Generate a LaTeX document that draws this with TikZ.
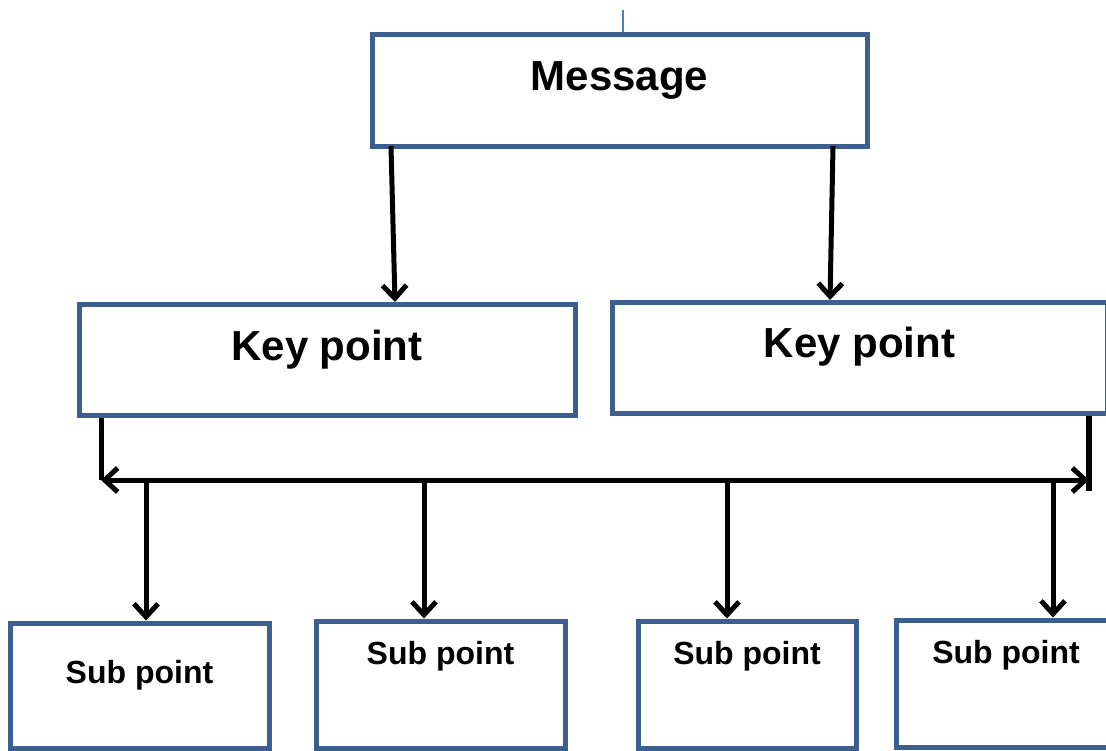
\documentclass[tikz,border=0pt]{standalone}
\usepackage{fontspec}
\setmainfont{Liberation Sans}
\usetikzlibrary{arrows.meta}
\definecolor{boxblue}{RGB}{61,95,143}
\definecolor{thinblue}{RGB}{74,126,187}
\tikzset{
  box/.style={draw=boxblue, line width=5pt, fill=white, rectangle, inner xsep=0pt, inner ysep=0pt, font=\bfseries},
  big/.style={font=\fontsize{42}{44}\selectfont\bfseries},
  small/.style={font=\fontsize{32}{34}\selectfont\bfseries},
  conn/.style={line width=5pt, black},
  tip/.tip={Straight Barb[length=13pt,width=24pt]},
  arr/.style={conn, -tip},
}
\begin{document}
\begin{tikzpicture}[x=1pt,y=-1pt]
\useasboundingbox (0,0) rectangle (1106,750);
\clip (0,0) rectangle (1106,750);
% boxes
\node[box,big,minimum width=495pt,text height=56pt,text depth=56pt] (msg) at (619.5,90) {Message};
\node[box,big,minimum width=496pt,text height=56pt,text depth=55pt] (kp1) at (327,359.5) {Key point};
\node[box,big,minimum width=495pt,text height=55pt,text depth=56pt] (kp2) at (859.5,357.5) {Key point};
\node[box,small,minimum width=259pt,text height=60pt,text depth=65pt] (sp1) at (139.5,685.5) {Sub point};
\node[box,small,minimum width=249pt,text height=43pt,text depth=84pt] (sp2) at (440.5,684.5) {Sub point};
\node[box,small,minimum width=218pt,text height=43pt,text depth=84pt] (sp3) at (747,684.5) {Sub point};
\node[box,small,minimum width=220pt,text height=43pt,text depth=84pt] (sp4) at (1006,683.5) {Sub point};
% top thin line
\coordinate (top) at (623,10);
\draw[thinblue, line width=1.5pt] (top) -- (top |- msg.north);
% message to key points
\coordinate (m1) at (391,146);
\coordinate (m2) at (833,146);
\coordinate (k1) at (395,302);
\coordinate (k2) at (830,300);
\draw[arr] (m1) -- (k1);
\draw[arr] (m2) -- (k2);
% bus
\coordinate (bl) at (101,480);
\coordinate (br) at (1089,480);
\coordinate (bre) at (1089,491);
\draw[conn] (bl |- kp1.south) -- (bl);
\draw[conn, line width=6pt] (br |- kp2.south) -- (bre);
\draw[conn, tip-tip] (bl) -- (br);
% bus to sub points
\coordinate (d1) at (146,480);
\coordinate (d2) at (424,480);
\coordinate (d3) at (727,480);
\coordinate (d4) at (1053,480);
\draw[arr] (d1) -- (d1 |- sp1.north);
\draw[arr] (d2) -- (d2 |- sp2.north);
\draw[arr] (d3) -- (d3 |- sp3.north);
\draw[arr] (d4) -- (d4 |- sp4.north);
\end{tikzpicture}
\end{document}
